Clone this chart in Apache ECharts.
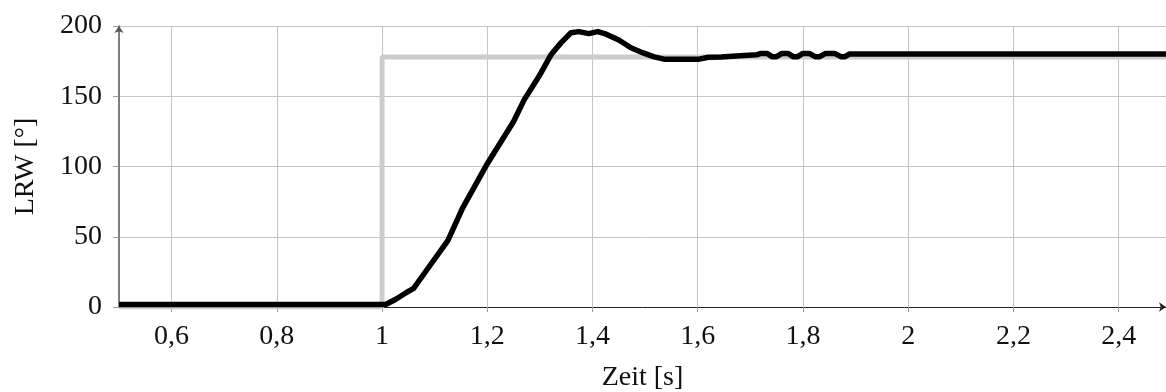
<!DOCTYPE html>
<html>
<head>
<meta charset="utf-8">
<script src="https://cdn.jsdelivr.net/npm/echarts@6/dist/echarts.min.js"></script>
<style>
  html, body { margin: 0; padding: 0; background: #fff; }
  #chart { width: 1166px; height: 392px; }
</style>
</head>
<body>
<div id="chart"></div>
<script>
// Istwert (schwarz)
const zeit = [0.5, 1.0, 1.007, 1.026, 1.045, 1.06, 1.09, 1.125, 1.153, 1.2, 1.25, 1.27, 1.298, 1.321, 1.34, 1.359,
  1.374, 1.393, 1.41, 1.426, 1.45, 1.473, 1.495, 1.517, 1.536, 1.603, 1.62, 1.645, 1.658, 1.66, 1.712,
  1.72, 1.732, 1.741, 1.75, 1.76, 1.772, 1.781, 1.79, 1.8, 1.812, 1.823, 1.832, 1.843, 1.86, 1.872, 1.88, 1.888, 2.49]
const lrw = [1.8, 1.8, 1.8, 5.5, 10, 13.3, 29, 47.2, 70.4, 102, 132, 147.4, 164, 179.5, 188, 195.2,
  196, 194.6, 196, 194.2, 190, 184.5, 181, 178, 176.4, 176.4, 177.8, 178, 178.3, 179.5, 179.5,
  180.5, 180.5, 178.2, 178.2, 180.5, 180.5, 178.2, 178.2, 180.5, 180.5, 178.2, 178.2, 180.5, 180.5, 178.2, 178.2, 180, 180]

// Sollwert (grau)
const sollZeit = [0.5, 1.0, 1.0, 2.49]
const sollLrw = [0, 0, 178, 178]

const xTicks = [0.6, 0.8, 1, 1.2, 1.4, 1.6, 1.8, 2, 2.2, 2.4]
const yTicks = [0, 50, 100, 150, 200]

const font = '"Liberation Serif", "DejaVu Serif", serif'

const chart = echarts.init(document.getElementById('chart'))

chart.setOption({
  backgroundColor: '#ffffff',
  animation: false,
  grid: {
    left: 119,
    right: 0,
    top: 26,
    bottom: 85,
    outerBoundsMode: 'none'
  },
  xAxis: {
    type: 'value',
    min: 0.5,
    max: 2.49,
    name: 'Zeit [s]',
    nameLocation: 'middle',
    nameGap: 57,
    nameTextStyle: { fontFamily: font, fontSize: 28, color: '#111' },
    axisLine: {
      show: true,
      onZero: false,
      symbol: ['none', 'arrow'],
      symbolSize: [7, 7],
      lineStyle: { color: '#222', width: 1 }
    },
    axisTick: {
      show: true,
      length: 5,
      customValues: xTicks,
      lineStyle: { color: '#999' }
    },
    axisLabel: {
      customValues: xTicks,
      margin: 16,
      fontFamily: font,
      fontSize: 28,
      color: '#111',
      formatter: v => String(v).replace('.', ',')
    },
    splitLine: { show: true, lineStyle: { color: '#c4c4c4', width: 1 } }
  },
  yAxis: {
    type: 'value',
    min: 0,
    max: 200,
    interval: 50,
    name: 'LRW [°]',
    nameLocation: 'middle',
    nameGap: 79,
    nameTextStyle: { fontFamily: font, fontSize: 28, color: '#111' },
    axisLine: {
      show: true,
      symbol: ['none', 'arrow'],
      symbolSize: [7, 7],
      lineStyle: { color: '#555', width: 1.5 }
    },
    axisTick: {
      show: true,
      length: 6,
      customValues: yTicks,
      lineStyle: { color: '#999' }
    },
    axisLabel: {
      customValues: yTicks,
      margin: 17,
      fontFamily: font,
      fontSize: 28,
      color: '#111'
    },
    splitLine: { show: true, lineStyle: { color: '#c4c4c4', width: 1 } }
  },
  series: [
    {
      name: 'Soll',
      type: 'line',
      data: sollZeit.map((t, i) => [t, sollLrw[i]]),
      showSymbol: false,
      lineStyle: { color: '#cccccc', width: 5 },
      z: 2
    },
    {
      name: 'Ist',
      type: 'line',
      data: zeit.map((t, i) => [t, lrw[i]]),
      showSymbol: false,
      lineStyle: { color: '#000000', width: 5.5, join: 'round' },
      z: 3
    }
  ]
})
</script>
</body>
</html>
